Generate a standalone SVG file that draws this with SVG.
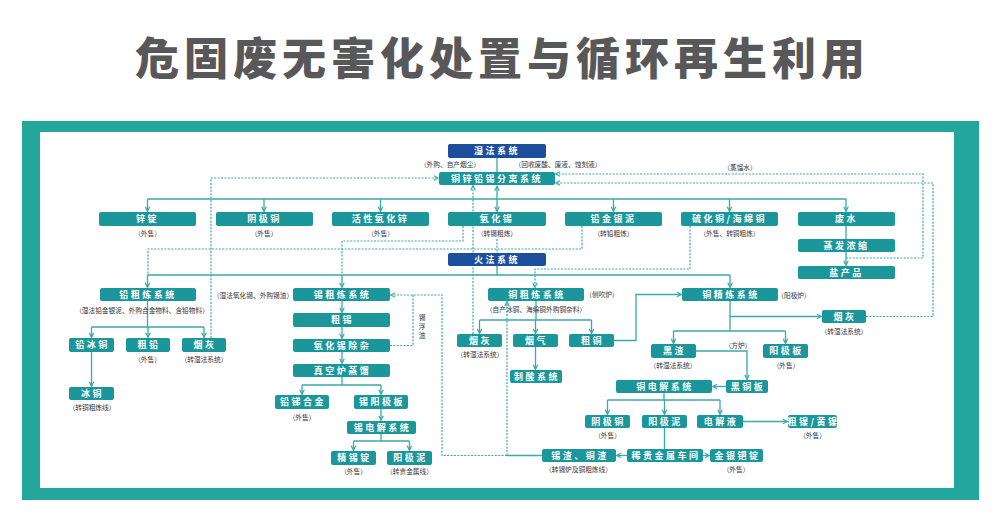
<svg xmlns="http://www.w3.org/2000/svg" width="1000" height="525" viewBox="0 0 1000 525">
<defs>
<style>
.t{font-family:"Noto Sans CJK SC","Noto Sans",sans-serif;}
.title{font-family:"Noto Sans CJK SC",sans-serif;font-size:44px;font-weight:900;fill:#585858;}
.n rect{fill:#1b979c;}
.b rect{fill:#1b4f9c;}
.n text,.b text{font-family:"Noto Sans CJK SC",sans-serif;font-size:9px;font-weight:bold;fill:#fff;text-anchor:middle;letter-spacing:2.5px;}
.lb{font-family:"Noto Sans CJK SC",sans-serif;font-size:6.7px;fill:#333;text-anchor:middle;}
.c path{fill:none;stroke:#3aa9a9;stroke-width:1.3;}
.c path.d{stroke-width:1.2;stroke-dasharray:2 1.4;}
</style>
<marker id="a" viewBox="0 0 8 8" refX="7.2" refY="4" markerWidth="6" markerHeight="6" markerUnits="userSpaceOnUse" orient="auto-start-reverse">
<path d="M1,1 L7,4 L1,7" fill="none" stroke="#3aa9a9" stroke-width="1.6"/>
</marker>
</defs>
<rect width="1000" height="525" fill="#fff"/>
<text class="title" x="500" y="75" text-anchor="middle" textLength="730" lengthAdjust="spacing">危固废无害化处置与循环再生利用</text>
<rect x="22" y="121" width="957" height="379" fill="#23a79d"/>
<rect x="40" y="132" width="914" height="356" fill="#fff"/>

<g id="connectors" class="c">
<path d="M497,158 V172"/>
<path d="M497,186 V211.5" marker-start="url(#a)" marker-end="url(#a)"/>
<path d="M147.5,199 H846"/>
<path d="M147.5,199 V211.5" marker-end="url(#a)"/>
<path d="M264,199 V211.5" marker-end="url(#a)"/>
<path d="M380.5,199 V211.5" marker-end="url(#a)"/>
<path d="M613.5,199 V211.5" marker-end="url(#a)"/>
<path d="M729.5,199 V211.5" marker-end="url(#a)"/>
<path d="M846,199 V211.5" marker-end="url(#a)"/>
<path d="M846,226 V265.5" marker-end="url(#a)"/>
<path d="M497,266 V275"/>
<path d="M147.5,275 H730"/>
<path d="M147.5,275 V287.5" marker-end="url(#a)"/>
<path d="M342,275 V287.5" marker-end="url(#a)"/>
<path d="M730,275 V287.5" marker-end="url(#a)"/>
<path d="M147.5,301 V327"/>
<path d="M91.5,327 H204"/>
<path d="M91.5,327 V337.5" marker-end="url(#a)"/>
<path d="M148,327 V337.5" marker-end="url(#a)"/>
<path d="M204,327 V337.5" marker-end="url(#a)"/>
<path d="M91.5,352 V386.5" marker-end="url(#a)"/>
<path d="M342,301 V312.5" marker-end="url(#a)"/>
<path d="M342,327 V338.5" marker-end="url(#a)"/>
<path d="M342,352 V363.5" marker-end="url(#a)"/>
<path d="M342,377 V385"/>
<path d="M302,385 H381"/>
<path d="M302,385 V394.5" marker-end="url(#a)"/>
<path d="M381,385 V394.5" marker-end="url(#a)"/>
<path d="M381,409 V420.5" marker-end="url(#a)"/>
<path d="M381,434 V441"/>
<path d="M353.5,441 H409.5"/>
<path d="M353.5,441 V450.5" marker-end="url(#a)"/>
<path d="M409.5,441 V450.5" marker-end="url(#a)"/>
<path d="M536,301 V320"/>
<path d="M479.5,320 H591.5"/>
<path d="M479.5,320 V333.5" marker-end="url(#a)"/>
<path d="M535.5,320 V333.5" marker-end="url(#a)"/>
<path d="M591.5,320 V333.5" marker-end="url(#a)"/>
<path d="M535.5,347 V369.5" marker-end="url(#a)"/>
<path d="M614,340.5 H636 V294.5 H681.5" marker-end="url(#a)"/>
<path d="M730,301 V331"/>
<path d="M730,316.5 H821.5" marker-end="url(#a)"/>
<path d="M673.5,331 H785.5"/>
<path d="M673.5,331 V343.5" marker-end="url(#a)"/>
<path d="M785.5,331 V343.5" marker-end="url(#a)"/>
<path d="M696,351 H747 V379.5" marker-end="url(#a)"/>
<path d="M726,386.5 H712.5" marker-end="url(#a)"/>
<path d="M664,393 V400"/>
<path d="M607.5,400 H720"/>
<path d="M607.5,400 V414.5" marker-end="url(#a)"/>
<path d="M664.5,400 V414.5" marker-end="url(#a)"/>
<path d="M720,400 V414.5" marker-end="url(#a)"/>
<path d="M743,421.5 H787.5" marker-end="url(#a)"/>
<path d="M664.5,428 V449"/>
<path d="M627,455.5 H616.5" marker-end="url(#a)"/>
<path d="M703,455.5 H709.5" marker-end="url(#a)"/>
<path d="M542,455.5 H507"/>
<path class="d" d="M211,338 V178 H438.5" marker-end="url(#a)"/>
<path class="d" d="M582,226 V249 H148 V275"/>
<path class="d" d="M463,226 V241 H342 V275"/>
<path class="d" d="M473,334 V185.5" marker-end="url(#a)"/>
<path class="d" d="M497,239 V253"/>
<path class="d" d="M690,226 V269 H535 V287.5" marker-end="url(#a)"/>
<path class="d" d="M846,258 H923 V174 H555.5" marker-end="url(#a)"/>
<path class="d" d="M866,316.5 H933 V183 H555.5" marker-end="url(#a)"/>
<path class="d" d="M507,455.5 H442 V295 H390.5" marker-end="url(#a)"/>
<path class="d" d="M507,455.5 V301.5" marker-end="url(#a)"/>
<path class="d" d="M390,345.5 H413 V295"/>
</g>

<g id="n_wet" class="b"><rect x="448" y="144" width="98" height="14" rx="2"/><text x="497" y="154.3">湿法系统</text></g>
<g id="n_fire" class="b"><rect x="448" y="253" width="98" height="13" rx="2"/><text x="497" y="262.8">火法系统</text></g>
<g id="n_sep" class="n"><rect x="439" y="172" width="116" height="13" rx="2"/><text x="497" y="181.8">铜锌铅锡分离系统</text></g>

<g id="n_zn" class="n"><rect x="99" y="212" width="97" height="14" rx="2"/><text x="147.5" y="222.3">锌锭</text></g>
<g id="n_cathode1" class="n"><rect x="216" y="212" width="97" height="14" rx="2"/><text x="264.5" y="222.3">阴极铜</text></g>
<g id="n_zno" class="n"><rect x="332" y="212" width="97" height="14" rx="2"/><text x="380.5" y="222.3">活性氧化锌</text></g>
<g id="n_sno" class="n"><rect x="448" y="212" width="98" height="14" rx="2"/><text x="497" y="222.3">氧化锡</text></g>
<g id="n_pbau" class="n"><rect x="565" y="212" width="97" height="14" rx="2"/><text x="613.5" y="222.3">铅金银泥</text></g>
<g id="n_cus" class="n"><rect x="681" y="212" width="97" height="14" rx="2"/><text x="729.5" y="222.3">硫化铜/海绵铜</text></g>
<g id="n_water" class="n"><rect x="798" y="212" width="97" height="14" rx="2"/><text x="846.5" y="222.3">废水</text></g>
<g id="n_evap" class="n"><rect x="798" y="239" width="97" height="13" rx="2"/><text x="846.5" y="248.8">蒸发浓缩</text></g>
<g id="n_salt" class="n"><rect x="798" y="266" width="97" height="13" rx="2"/><text x="846.5" y="275.8">盐产品</text></g>

<g id="n_pbsys" class="n"><rect x="100" y="288" width="96" height="13" rx="2"/><text x="148" y="297.8">铅粗炼系统</text></g>
<g id="n_pbmatte" class="n"><rect x="69" y="338" width="45" height="14" rx="2"/><text x="92.5" y="348.3">铅冰铜</text></g>
<g id="n_crudepb" class="n"><rect x="126" y="338" width="44" height="14" rx="2"/><text x="149" y="348.3">粗铅</text></g>
<g id="n_dust1" class="n"><rect x="182" y="338" width="44" height="14" rx="2"/><text x="205" y="348.3">烟灰</text></g>
<g id="n_matte" class="n"><rect x="69" y="387" width="45" height="13" rx="2"/><text x="92.5" y="396.8">冰铜</text></g>

<g id="n_snsys" class="n"><rect x="293" y="288" width="97" height="13" rx="2"/><text x="342.5" y="297.8">锡粗炼系统</text></g>
<g id="n_crudesn" class="n"><rect x="293" y="313" width="97" height="14" rx="2"/><text x="342.5" y="323.3">粗锡</text></g>
<g id="n_snox" class="n"><rect x="293" y="339" width="97" height="13" rx="2"/><text x="342.5" y="348.8">氧化锡除杂</text></g>
<g id="n_vac" class="n"><rect x="293" y="364" width="97" height="13" rx="2"/><text x="342.5" y="373.8">真空炉蒸馏</text></g>
<g id="n_pbsb" class="n"><rect x="275" y="395" width="54" height="14" rx="2"/><text x="303" y="405.3">铅锑合金</text></g>
<g id="n_snanode" class="n"><rect x="354" y="395" width="54" height="14" rx="2"/><text x="382" y="405.3">锡阳极板</text></g>
<g id="n_snelec" class="n"><rect x="347" y="421" width="69" height="13" rx="2"/><text x="382.5" y="430.8">锡电解系统</text></g>
<g id="n_snpure" class="n"><rect x="331" y="451" width="45" height="14" rx="2"/><text x="354.5" y="461.3">精锡锭</text></g>
<g id="n_slime1" class="n"><rect x="387" y="451" width="45" height="14" rx="2"/><text x="410.5" y="461.3">阳极泥</text></g>

<g id="n_cusys" class="n"><rect x="488" y="288" width="96" height="13" rx="2"/><text x="537" y="297.8">铜粗炼系统</text></g>
<g id="n_dust2" class="n"><rect x="457" y="334" width="45" height="13" rx="2"/><text x="480.5" y="343.8">烟灰</text></g>
<g id="n_gas" class="n"><rect x="513" y="334" width="45" height="13" rx="2"/><text x="536.5" y="343.8">烟气</text></g>
<g id="n_crudecu" class="n"><rect x="569" y="334" width="45" height="13" rx="2"/><text x="592.5" y="343.8">粗铜</text></g>
<g id="n_acid" class="n"><rect x="510" y="370" width="52" height="13" rx="2"/><text x="537" y="379.8">制酸系统</text></g>

<g id="n_curef" class="n"><rect x="682" y="288" width="96" height="13" rx="2"/><text x="731" y="297.8">铜精炼系统</text></g>
<g id="n_dust3" class="n"><rect x="822" y="310" width="44" height="13" rx="2"/><text x="845" y="319.8">烟灰</text></g>
<g id="n_slag" class="n"><rect x="651" y="344" width="45" height="14" rx="2"/><text x="674.5" y="354.3">黑渣</text></g>
<g id="n_anode" class="n"><rect x="763" y="344" width="45" height="14" rx="2"/><text x="786.5" y="354.3">阳极板</text></g>
<g id="n_blackcu" class="n"><rect x="726" y="380" width="42" height="13" rx="2"/><text x="748" y="389.8">黑铜板</text></g>
<g id="n_cuelec" class="n"><rect x="616" y="380" width="96" height="13" rx="2"/><text x="665" y="389.8">铜电解系统</text></g>
<g id="n_cathode2" class="n"><rect x="585" y="415" width="45" height="13" rx="2"/><text x="608.5" y="424.8">阴极铜</text></g>
<g id="n_slime2" class="n"><rect x="642" y="415" width="45" height="13" rx="2"/><text x="665.5" y="424.8">阳极泥</text></g>
<g id="n_electrolyte" class="n"><rect x="697" y="415" width="46" height="13" rx="2"/><text x="721" y="424.8">电解液</text></g>
<g id="n_ni" class="n"><rect x="788" y="415" width="49" height="13" rx="2"/><text x="813.5" y="424.8">粗镍/黄镍</text></g>
<g id="n_precious" class="n"><rect x="627" y="449" width="76" height="13" rx="2"/><text x="666" y="458.8">稀贵金属车间</text></g>
<g id="n_augag" class="n"><rect x="710" y="449" width="53" height="13" rx="2"/><text x="737.5" y="458.8">金银钯锭</text></g>
<g id="n_snslag" class="n"><rect x="542" y="449" width="74" height="13" rx="2"/><text x="580" y="458.8">锡渣、铜渣</text></g>

<g id="labels">
<text class="lb" x="450" y="166.5">（外购、自产烟尘）</text>
<text class="lb" x="558" y="166.5">（回收废酸、废液、蚀刻液）</text>
<text class="lb" x="740" y="169.5">（蒸馏水）</text>
<text class="lb" x="147.5" y="235.5">（外售）</text>
<text class="lb" x="264" y="235.5">（外售）</text>
<text class="lb" x="380.5" y="235.5">（外售）</text>
<text class="lb" x="497" y="235.5">（转锡粗炼）</text>
<text class="lb" x="613.5" y="235.5">（转铅粗炼）</text>
<text class="lb" x="729.5" y="235.5">（外售、转铜粗炼）</text>
<text class="lb" x="142" y="312.5">（湿法铅金银泥、外购合金物料、含铅物料）</text>
<text class="lb" x="253" y="297.5">（湿法氧化锡、外购锡渣）</text>
<text class="lb" x="147.5" y="361.5">（外售）</text>
<text class="lb" x="204" y="361.5">（转湿法系统）</text>
<text class="lb" x="92" y="410">（转铜粗炼线）</text>
<text class="lb" x="422" y="320">锡</text>
<text class="lb" x="422" y="329">浮</text>
<text class="lb" x="422" y="338">渣</text>
<text class="lb" x="302" y="419.5">（外售）</text>
<text class="lb" x="353.5" y="473.5">（外售）</text>
<text class="lb" x="409.5" y="473.5">（转贵金属线）</text>
<text class="lb" x="602" y="296.5">（侧吹炉）</text>
<text class="lb" x="536" y="311.5">（自产冰铜、海绵铜外购铜杂料）</text>
<text class="lb" x="480" y="356.5">（转湿法系统）</text>
<text class="lb" x="794" y="297.5">（阳极炉）</text>
<text class="lb" x="844" y="334">（转湿法系统）</text>
<text class="lb" x="738" y="347.5">（方炉）</text>
<text class="lb" x="673" y="367.5">（转湿法系统）</text>
<text class="lb" x="786" y="367.5">（外售）</text>
<text class="lb" x="607.5" y="437.5">（外售）</text>
<text class="lb" x="812.5" y="437.5">（外售）</text>
<text class="lb" x="578.5" y="471.5">（转锡炉及铜粗炼线）</text>
<text class="lb" x="736" y="471.5">（外售）</text>
</g>
</svg>
